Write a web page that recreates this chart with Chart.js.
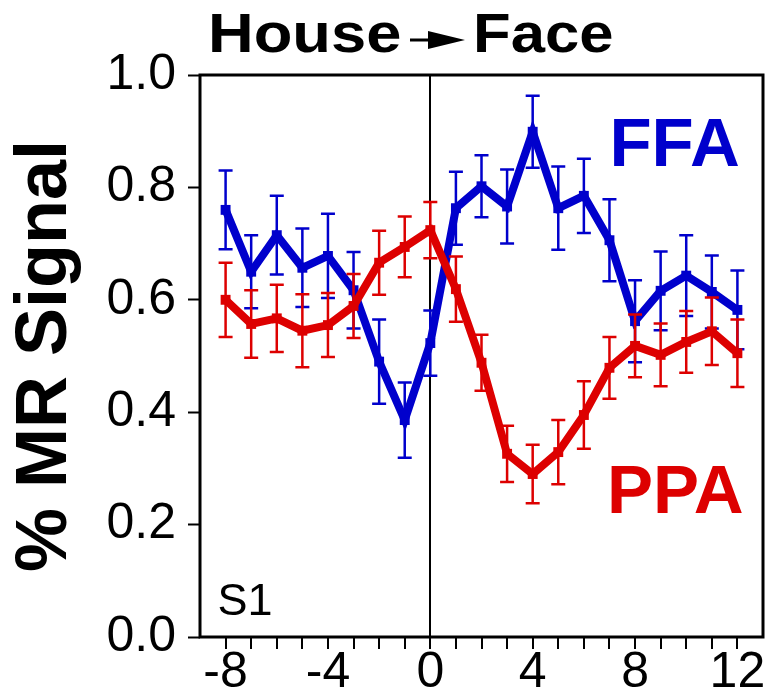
<!DOCTYPE html>
<html>
<head>
<meta charset="utf-8">
<script src="https://cdn.jsdelivr.net/npm/chart.js@4.4.1/dist/chart.umd.min.js"></script>
<style>
    html, body { margin: 0; padding: 0; background: #fff; }
    #wrap { width: 770px; height: 697px; }
</style>
</head>
<body>
<div id="wrap"><canvas id="mrChart"></canvas></div>
<script>
// time points (scans relative to the switch)
const timePoints = [-8, -7, -6, -5, -4, -3, -2, -1, 0, 1, 2, 3, 4, 5, 6, 7, 8, 9, 10, 11, 12];
const xTickValues = [-8, -7, -6, -5, -4, -3, -2, -1, 0, 1, 2, 3, 4, 5, 6, 7, 8, 9, 10, 11, 12];

// % MR signal
const ffaSignal = [0.760, 0.650, 0.715, 0.657, 0.678, 0.617, 0.490, 0.386, 0.523, 0.763, 0.802,
                   0.766, 0.899, 0.763, 0.785, 0.706, 0.562, 0.616, 0.643, 0.614, 0.582];
const ffaErr    = [0.070, 0.065, 0.070, 0.070, 0.075, 0.068, 0.075, 0.067, 0.058, 0.065, 0.055,
                   0.066, 0.064, 0.074, 0.066, 0.073, 0.073, 0.070, 0.072, 0.065, 0.070];
const ppaSignal = [0.600, 0.557, 0.567, 0.545, 0.555, 0.589, 0.666, 0.694, 0.724, 0.619, 0.488,
                   0.326, 0.290, 0.329, 0.395, 0.479, 0.518, 0.502, 0.525, 0.544, 0.505];
const ppaErr    = [0.066, 0.060, 0.060, 0.065, 0.057, 0.057, 0.057, 0.054, 0.050, 0.058, 0.050,
                   0.050, 0.052, 0.057, 0.060, 0.055, 0.056, 0.056, 0.055, 0.060, 0.060];

const BLUE = '#0000cc';
const RED = '#dd0000';
const FONT = '"Liberation Sans", Arial, Helvetica, sans-serif';

function toPoints(vals) {
    return timePoints.map((t, i) => ({ x: t, y: vals[i] }));
}

const errorSets = [
    { values: ppaSignal, err: ppaErr, color: RED },
    { values: ffaSignal, err: ffaErr, color: BLUE }
];

// error bars are drawn right after their own line, so red stays on top
const overlay = {
    id: 'overlay',
    afterDatasetDraw(chart, args) {
        const set = errorSets[args.index];
        const xs = chart.scales.x, ys = chart.scales.y;
        const ctx = chart.ctx;
        ctx.save();
        ctx.strokeStyle = set.color;
        ctx.lineWidth = 2.5;
        const cap = 7;
        set.values.forEach((v, i) => {
            const px = xs.getPixelForValue(timePoints[i]);
            const top = ys.getPixelForValue(v + set.err[i]);
            const bot = ys.getPixelForValue(v - set.err[i]);
            ctx.beginPath();
            ctx.moveTo(px, top); ctx.lineTo(px, bot);
            ctx.moveTo(px - cap, top); ctx.lineTo(px + cap, top);
            ctx.moveTo(px - cap, bot); ctx.lineTo(px + cap, bot);
            ctx.stroke();
        });
        ctx.restore();
    },
    afterDraw(chart) {
        const ctx = chart.ctx;
        const a = chart.chartArea;
        const xs = chart.scales.x, ys = chart.scales.y;
        ctx.save();
        // frame round the plot
        ctx.strokeStyle = '#000';
        ctx.lineWidth = 3;
        ctx.strokeRect(a.left, a.top, a.right - a.left, a.bottom - a.top);

        // region labels
        ctx.textBaseline = 'alphabetic';
        ctx.textAlign = 'left';
        ctx.font = 'bold 69px ' + FONT;
        ctx.fillStyle = BLUE;
        ctx.fillText('FFA', xs.getPixelForValue(7.0), ys.getPixelForValue(0.838));
        ctx.fillStyle = RED;
        ctx.fillText('PPA', xs.getPixelForValue(6.9), ys.getPixelForValue(0.221));
        ctx.fillStyle = '#000';
        ctx.font = '45px ' + FONT;
        ctx.fillText('S1', xs.getPixelForValue(-8.32), ys.getPixelForValue(0.039));

        // title: House -> Face (the original lettering is a bit wider)
        ctx.font = 'bold 55px ' + FONT;
        const ty = 52;
        ctx.save();
        ctx.translate(a.left + 8, ty);
        ctx.scale(1.15, 1);
        ctx.fillText('House', 0, 0);
        ctx.restore();
        const ax = a.left + 210, ay = 40;
        ctx.lineWidth = 3;
        ctx.beginPath();
        ctx.moveTo(ax, ay); ctx.lineTo(ax + 24, ay);
        ctx.stroke();
        ctx.beginPath();
        ctx.moveTo(ax + 18, ay - 9);
        ctx.lineTo(ax + 55, ay);
        ctx.lineTo(ax + 18, ay + 9);
        ctx.closePath();
        ctx.fill();
        ctx.save();
        ctx.translate(a.left + 273, ty);
        ctx.scale(1.12, 1);
        ctx.fillText('Face', 0, 0);
        ctx.restore();
        ctx.restore();
    }
};

const ctx = document.getElementById('mrChart');
new Chart(ctx, {
    type: 'line',
    data: {
        datasets: [
            {
                label: 'PPA',
                data: toPoints(ppaSignal),
                borderColor: RED,
                backgroundColor: RED,
                borderWidth: 8,
                pointStyle: 'rect',
                pointRadius: 7,
                pointBorderWidth: 0,
                tension: 0,
                order: 1
            },
            {
                label: 'FFA',
                data: toPoints(ffaSignal),
                borderColor: BLUE,
                backgroundColor: BLUE,
                borderWidth: 8,
                pointStyle: 'rect',
                pointRadius: 7,
                pointBorderWidth: 0,
                tension: 0,
                order: 2
            }
        ]
    },
    options: {
        responsive: true,
        maintainAspectRatio: false,
        animation: false,
        layout: { padding: { top: 75, right: 7, left: 0, bottom: 0 } },
        scales: {
            x: {
                type: 'linear',
                min: -9,
                max: 13,
                afterBuildTicks: (scale) => {
                    scale.ticks = xTickValues.map(v => ({ value: v }));
                },
                afterFit: (scale) => { scale.height = 60; },
                border: { display: false },
                grid: {
                    drawOnChartArea: true,
                    color: (c) => (c.tick && c.tick.value === 0 ? '#000' : 'rgba(0,0,0,0)'),
                    lineWidth: 2,
                    tickColor: '#000',
                    tickWidth: 2,
                    tickLength: 12
                },
                ticks: {
                    autoSkip: false,
                    maxRotation: 0,
                    padding: -6,
                    color: '#000',
                    font: { family: FONT, size: 50 },
                    callback: (v) => (v % 4 === 0 ? String(v) : '')
                }
            },
            y: {
                min: 0,
                max: 1,
                afterFit: (scale) => { scale.width = 200; },
                border: { display: false },
                grid: {
                    drawOnChartArea: false,
                    tickColor: '#000',
                    tickWidth: 2,
                    tickLength: 12
                },
                ticks: {
                    stepSize: 0.1,
                    padding: 12,
                    color: '#000',
                    font: { family: FONT, size: 50 },
                    callback: (v) => (Math.round(v * 10) % 2 === 0 ? v.toFixed(1) : '')
                },
                title: {
                    display: true,
                    text: '% MR Signal',
                    color: '#000',
                    font: { family: FONT, size: 72, weight: 'bold', lineHeight: 1 },
                    padding: { top: 10, bottom: 0 }
                }
            }
        },
        plugins: {
            legend: { display: false },
            tooltip: { enabled: false }
        }
    },
    plugins: [overlay]
});
</script>
</body>
</html>
